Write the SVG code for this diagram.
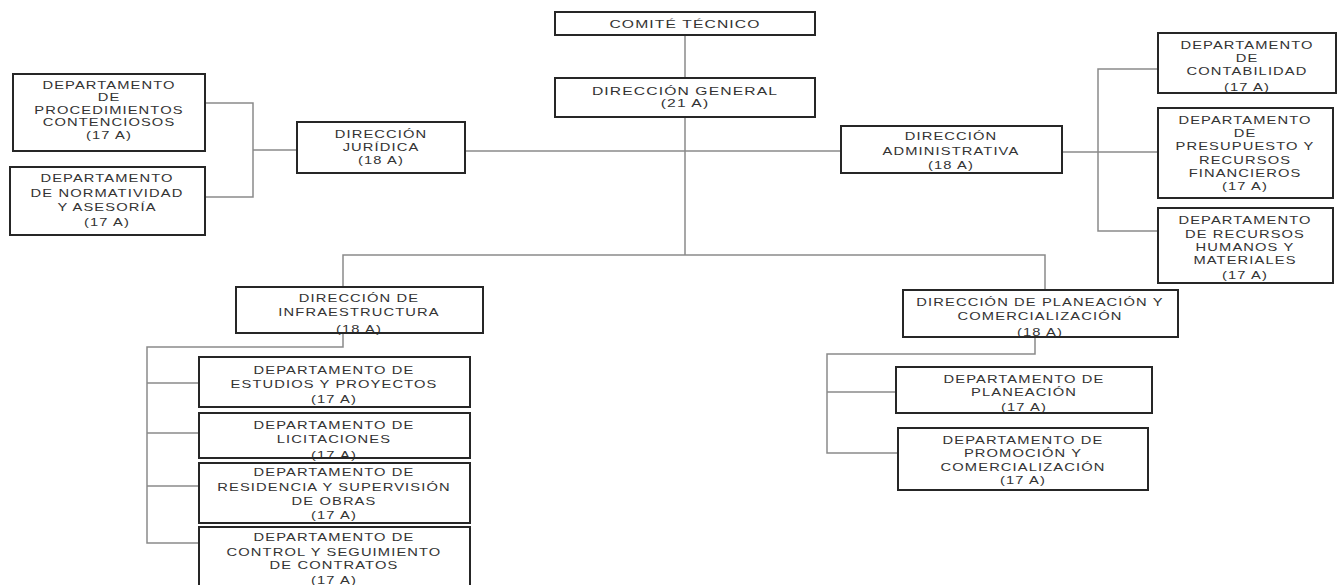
<svg xmlns="http://www.w3.org/2000/svg" width="1343" height="585" viewBox="0 0 1343 585">
<style>
.box{fill:none;stroke:#262626;stroke-width:2}
.lbl{font-family:"Liberation Sans",Arial,sans-serif;font-size:10.5px;fill:#333;letter-spacing:0.8px;text-anchor:middle}
.big{font-size:11.2px}
.con{fill:none;stroke:#8a8a8a;stroke-width:1.5}
</style>
<rect width="1343" height="585" fill="#fff"/>
<g id="connectors">
<path class="con" d="M685,35V78"/>
<path class="con" d="M685,117V255"/>
<path class="con" d="M465,151H841"/>
<path class="con" d="M343,287V255H1045V290"/>
<path class="con" d="M253,150H297"/>
<path class="con" d="M205,103H253V197H205"/>
<path class="con" d="M1062,152H1158"/>
<path class="con" d="M1158,69H1098V231H1158"/>
<path class="con" d="M343,333V347H147V543H199"/>
<path class="con" d="M147,383H199M147,433H199M147,486H199"/>
<path class="con" d="M1035,337V354H827V453H898"/>
<path class="con" d="M827,392H896"/>
</g>
<g id="comite">
<text class="lbl big" transform="translate(685 0) scale(1.4 1)"><tspan x="0" y="28">COMITÉ TÉCNICO</tspan></text>
<rect class="box" x="555" y="12" width="260" height="23"/>
</g>
<g id="direccion-general">
<text class="lbl big" transform="translate(685 0) scale(1.4 1)"><tspan x="0" y="95">DIRECCIÓN GENERAL</tspan><tspan x="0" y="107">(21 A)</tspan></text>
<rect class="box" x="555" y="78" width="260" height="39"/>
</g>
<g id="direccion-juridica">
<text class="lbl" transform="translate(381 0) scale(1.4 1)"><tspan x="0" y="138">DIRECCIÓN</tspan><tspan x="0" y="151.5">JURÍDICA</tspan><tspan x="0" y="164">(18 A)</tspan></text>
<rect class="box" x="297" y="122" width="168" height="51"/>
</g>
<g id="direccion-administrativa">
<text class="lbl" transform="translate(951 0) scale(1.4 1)"><tspan x="0" y="140.5">DIRECCIÓN</tspan><tspan x="0" y="155">ADMINISTRATIVA</tspan><tspan x="0" y="169">(18 A)</tspan></text>
<rect class="box" x="841" y="126" width="221" height="47"/>
</g>
<g id="depto-procedimientos">
<text class="lbl" transform="translate(109 0) scale(1.4 1)"><tspan x="0" y="89">DEPARTAMENTO</tspan><tspan x="0" y="101.5">DE</tspan><tspan x="0" y="114">PROCEDIMIENTOS</tspan><tspan x="0" y="126.5">CONTENCIOSOS</tspan><tspan x="0" y="139">(17 A)</tspan></text>
<rect class="box" x="13" y="74" width="192" height="77"/>
</g>
<g id="depto-normatividad">
<text class="lbl" transform="translate(107 0) scale(1.4 1)"><tspan x="0" y="182.5">DEPARTAMENTO</tspan><tspan x="0" y="197">DE NORMATIVIDAD</tspan><tspan x="0" y="211">Y ASESORÍA</tspan><tspan x="0" y="226.5">(17 A)</tspan></text>
<rect class="box" x="10" y="167" width="195" height="68"/>
</g>
<g id="depto-contabilidad">
<text class="lbl" transform="translate(1247 0) scale(1.4 1)"><tspan x="0" y="49">DEPARTAMENTO</tspan><tspan x="0" y="62.5">DE</tspan><tspan x="0" y="75.5">CONTABILIDAD</tspan><tspan x="0" y="91">(17 A)</tspan></text>
<rect class="box" x="1158" y="33" width="178" height="60"/>
</g>
<g id="depto-presupuesto">
<text class="lbl" transform="translate(1245 0) scale(1.4 1)"><tspan x="0" y="124">DEPARTAMENTO</tspan><tspan x="0" y="137.5">DE</tspan><tspan x="0" y="150.5">PRESUPUESTO Y</tspan><tspan x="0" y="164">RECURSOS</tspan><tspan x="0" y="177.5">FINANCIEROS</tspan><tspan x="0" y="190.5">(17 A)</tspan></text>
<rect class="box" x="1158" y="108" width="175" height="90"/>
</g>
<g id="depto-recursos-humanos">
<text class="lbl" transform="translate(1245 0) scale(1.4 1)"><tspan x="0" y="224">DEPARTAMENTO</tspan><tspan x="0" y="238">DE RECURSOS</tspan><tspan x="0" y="251.5">HUMANOS Y</tspan><tspan x="0" y="264">MATERIALES</tspan><tspan x="0" y="279">(17 A)</tspan></text>
<rect class="box" x="1158" y="208" width="175" height="75"/>
</g>
<g id="direccion-infraestructura">
<text class="lbl" transform="translate(359 0) scale(1.4 1)"><tspan x="0" y="302.5">DIRECCIÓN DE</tspan><tspan x="0" y="316.5">INFRAESTRUCTURA</tspan><tspan x="0" y="333">(18 A)</tspan></text>
<rect class="box" x="236" y="287" width="247" height="46"/>
</g>
<g id="depto-estudios">
<text class="lbl" transform="translate(334 0) scale(1.4 1)"><tspan x="0" y="374">DEPARTAMENTO DE</tspan><tspan x="0" y="388.5">ESTUDIOS Y PROYECTOS</tspan><tspan x="0" y="403.5">(17 A)</tspan></text>
<rect class="box" x="199" y="357" width="271" height="50"/>
</g>
<g id="depto-licitaciones">
<text class="lbl" transform="translate(334 0) scale(1.4 1)"><tspan x="0" y="429">DEPARTAMENTO DE</tspan><tspan x="0" y="443.5">LICITACIONES</tspan><tspan x="0" y="459">(17 A)</tspan></text>
<rect class="box" x="199" y="413" width="271" height="45"/>
</g>
<g id="depto-residencia">
<text class="lbl" transform="translate(334 0) scale(1.4 1)"><tspan x="0" y="476.5">DEPARTAMENTO DE</tspan><tspan x="0" y="491.5">RESIDENCIA Y SUPERVISIÓN</tspan><tspan x="0" y="505">DE OBRAS</tspan><tspan x="0" y="519">(17 A)</tspan></text>
<rect class="box" x="199" y="463" width="271" height="60"/>
</g>
<g id="depto-control">
<text class="lbl" transform="translate(334 0) scale(1.4 1)"><tspan x="0" y="541.5">DEPARTAMENTO DE</tspan><tspan x="0" y="556.5">CONTROL Y SEGUIMIENTO</tspan><tspan x="0" y="569.5">DE CONTRATOS</tspan><tspan x="0" y="584">(17 A)</tspan></text>
<rect class="box" x="199" y="527" width="271" height="62"/>
</g>
<g id="direccion-planeacion">
<text class="lbl" transform="translate(1040 0) scale(1.4 1)"><tspan x="0" y="306">DIRECCIÓN DE PLANEACIÓN Y</tspan><tspan x="0" y="320">COMERCIALIZACIÓN</tspan><tspan x="0" y="336">(18 A)</tspan></text>
<rect class="box" x="903" y="290" width="275" height="47"/>
</g>
<g id="depto-planeacion">
<text class="lbl" transform="translate(1024 0) scale(1.4 1)"><tspan x="0" y="383">DEPARTAMENTO DE</tspan><tspan x="0" y="396.5">PLANEACIÓN</tspan><tspan x="0" y="411">(17 A)</tspan></text>
<rect class="box" x="896" y="367" width="256" height="46"/>
</g>
<g id="depto-promocion">
<text class="lbl" transform="translate(1023 0) scale(1.4 1)"><tspan x="0" y="444">DEPARTAMENTO DE</tspan><tspan x="0" y="457.5">PROMOCIÓN Y</tspan><tspan x="0" y="471">COMERCIALIZACIÓN</tspan><tspan x="0" y="484.5">(17 A)</tspan></text>
<rect class="box" x="898" y="428" width="250" height="62"/>
</g>
</svg>
